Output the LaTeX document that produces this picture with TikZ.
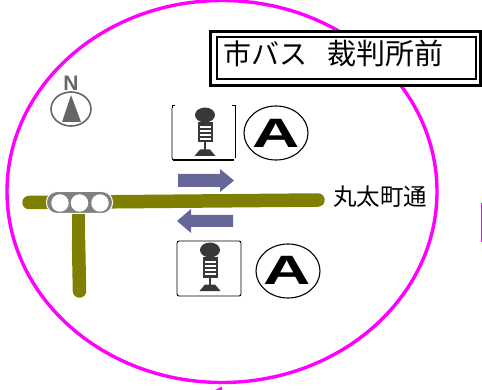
\documentclass[tikz,border=0pt]{standalone}
\usepackage{fontspec}
\newfontfamily\cjk{Noto Sans CJK JP}
\newfontfamily\lat{Liberation Sans}
\definecolor{road}{HTML}{808000}
\definecolor{arrowc}{HTML}{666699}
\definecolor{ring}{HTML}{FF00FF}
\definecolor{dark}{HTML}{383838}
\definecolor{compassc}{HTML}{666666}
\tikzset{
  x=1pt,y=-1pt,
  roadline/.style={draw=road,line width=13.5pt},
  ringline/.style={draw=ring,line width=3.4pt},
  flow/.style={fill=arrowc,draw=none},
  routebadge/.style={draw=black,line width=1.1pt,ellipse,minimum width=64pt,minimum height=54pt,inner sep=0pt},
  labeltext/.style={inner sep=0pt,font=\cjk,text=black},
  pics/stopicon/.style={code={
    \fill[dark] (0,0) ellipse[x radius=10,y radius=7.5];
    \fill[dark] (-7.5,7.5) rectangle (7.5,27.5);
    \foreach \yy in {12,16,20,24}{\fill[white] (-5.5,\yy-0.55) rectangle (5.5,\yy+0.55);}
    \fill[dark] (-1,27) rectangle (1,36);
    \fill[dark] (-5,34.5) -- (5,34.5) -- (10.5,41) -- (-10.5,41) -- cycle;
  }}
}
\usetikzlibrary{shapes.geometric}
\begin{document}
\begin{tikzpicture}
\useasboundingbox (0,0) rectangle (482,390);
% ring
\draw[ringline] (222,191.5) ellipse[x radius=215,y radius=191];
\fill[ring] (215,390) -- (222,386.5) -- (222,390) -- cycle;
\draw[ring,line width=1pt] (481.5,203) -- (481.5,242);
% title
\node[draw=black,fill=white,line width=2.8pt,minimum width=270pt,minimum height=54pt,inner sep=0pt] (titleouter) at (345.5,58.5) {};
\node[draw=black,fill=white,line width=2pt,minimum width=259pt,minimum height=42pt,inner sep=0pt] (titleinner) at (346,58.5) {};
\node[labeltext,font=\cjk\fontsize{28}{28}\selectfont,anchor=west] (titlea) at (223,53.5) {市バス};
\node[labeltext,font=\cjk\fontsize{29}{29}\selectfont,anchor=west] (titleb) at (327,53.5) {裁判所前};
% roads
\draw[roadline,line cap=round] (29,202.5) -- (318,200);
\draw[roadline,line cap=round] (79.5,291) -- (78.5,240);
\draw[roadline] (78.5,250) -- (78.5,214);
% signal
\draw[draw=white,fill=gray,line width=1pt,rounded corners=10.5pt] (46.5,191.5) rectangle (112.5,213.5);
\foreach \cx/\nm in {60/sa,79.5/sb,100/sc}{
  \node[circle,fill=white,minimum size=17.5pt,inner sep=0pt] (\nm) at (\cx,203) {};
}
% compass
\node[inner sep=0pt,font=\lat\bfseries\fontsize{21}{21}\selectfont,text=compassc] (north) at (71,83) {N};
\node[draw=compassc,line width=1.6pt,ellipse,minimum width=40pt,minimum height=34pt,inner sep=0pt] (compass) at (71,109) {};
\fill[compassc] (71,95) -- (81,122) -- (62,122) -- cycle;
% upper stop
\draw[black,line width=0.8pt] (172,108) -- (172,158) arc[start angle=180,end angle=90,radius=2] ;
\draw[black,line width=1.3pt] (173,160) -- (234,160);
\draw[black,line width=0.8pt] (235,158) -- (235,108);
\draw[black,line width=0.8pt] (172,108) -- (172,105.5) -- (175,105.5);
\draw[black,line width=0.8pt] (235,108) -- (235,105.5) -- (232,105.5);
\pic at (205,115) {stopicon};
\node[routebadge] (badgea) at (276,133) {};
\node[inner sep=0pt,font=\lat\bfseries\fontsize{41}{41}\selectfont] (lettera) at (276.5,133) {\scalebox{1.6}[1]{A}};
% lower stop
\draw[black,line width=0.9pt,rounded corners=2pt] (177,241) rectangle (241,296);
\pic at (210,250) {stopicon};
\node[routebadge] (badgeb) at (288,271) {};
\node[inner sep=0pt,font=\lat\bfseries\fontsize{41}{41}\selectfont] (letterb) at (287.5,270.5) {\scalebox{1.6}[1]{A}};
% arrows
\fill[flow] (178,174) -- (220,174) -- (220,169) -- (234,180.5) -- (220,192) -- (220,187) -- (178,187) -- cycle;
\fill[flow] (233,215) -- (191,215) -- (191,209) -- (177,221) -- (191,233) -- (191,227) -- (233,227) -- cycle;
% street label
\node[labeltext,font=\cjk\fontsize{23.5}{23.5}\selectfont,anchor=west] (street) at (333,197) {丸太町通};
\end{tikzpicture}
\end{document}
